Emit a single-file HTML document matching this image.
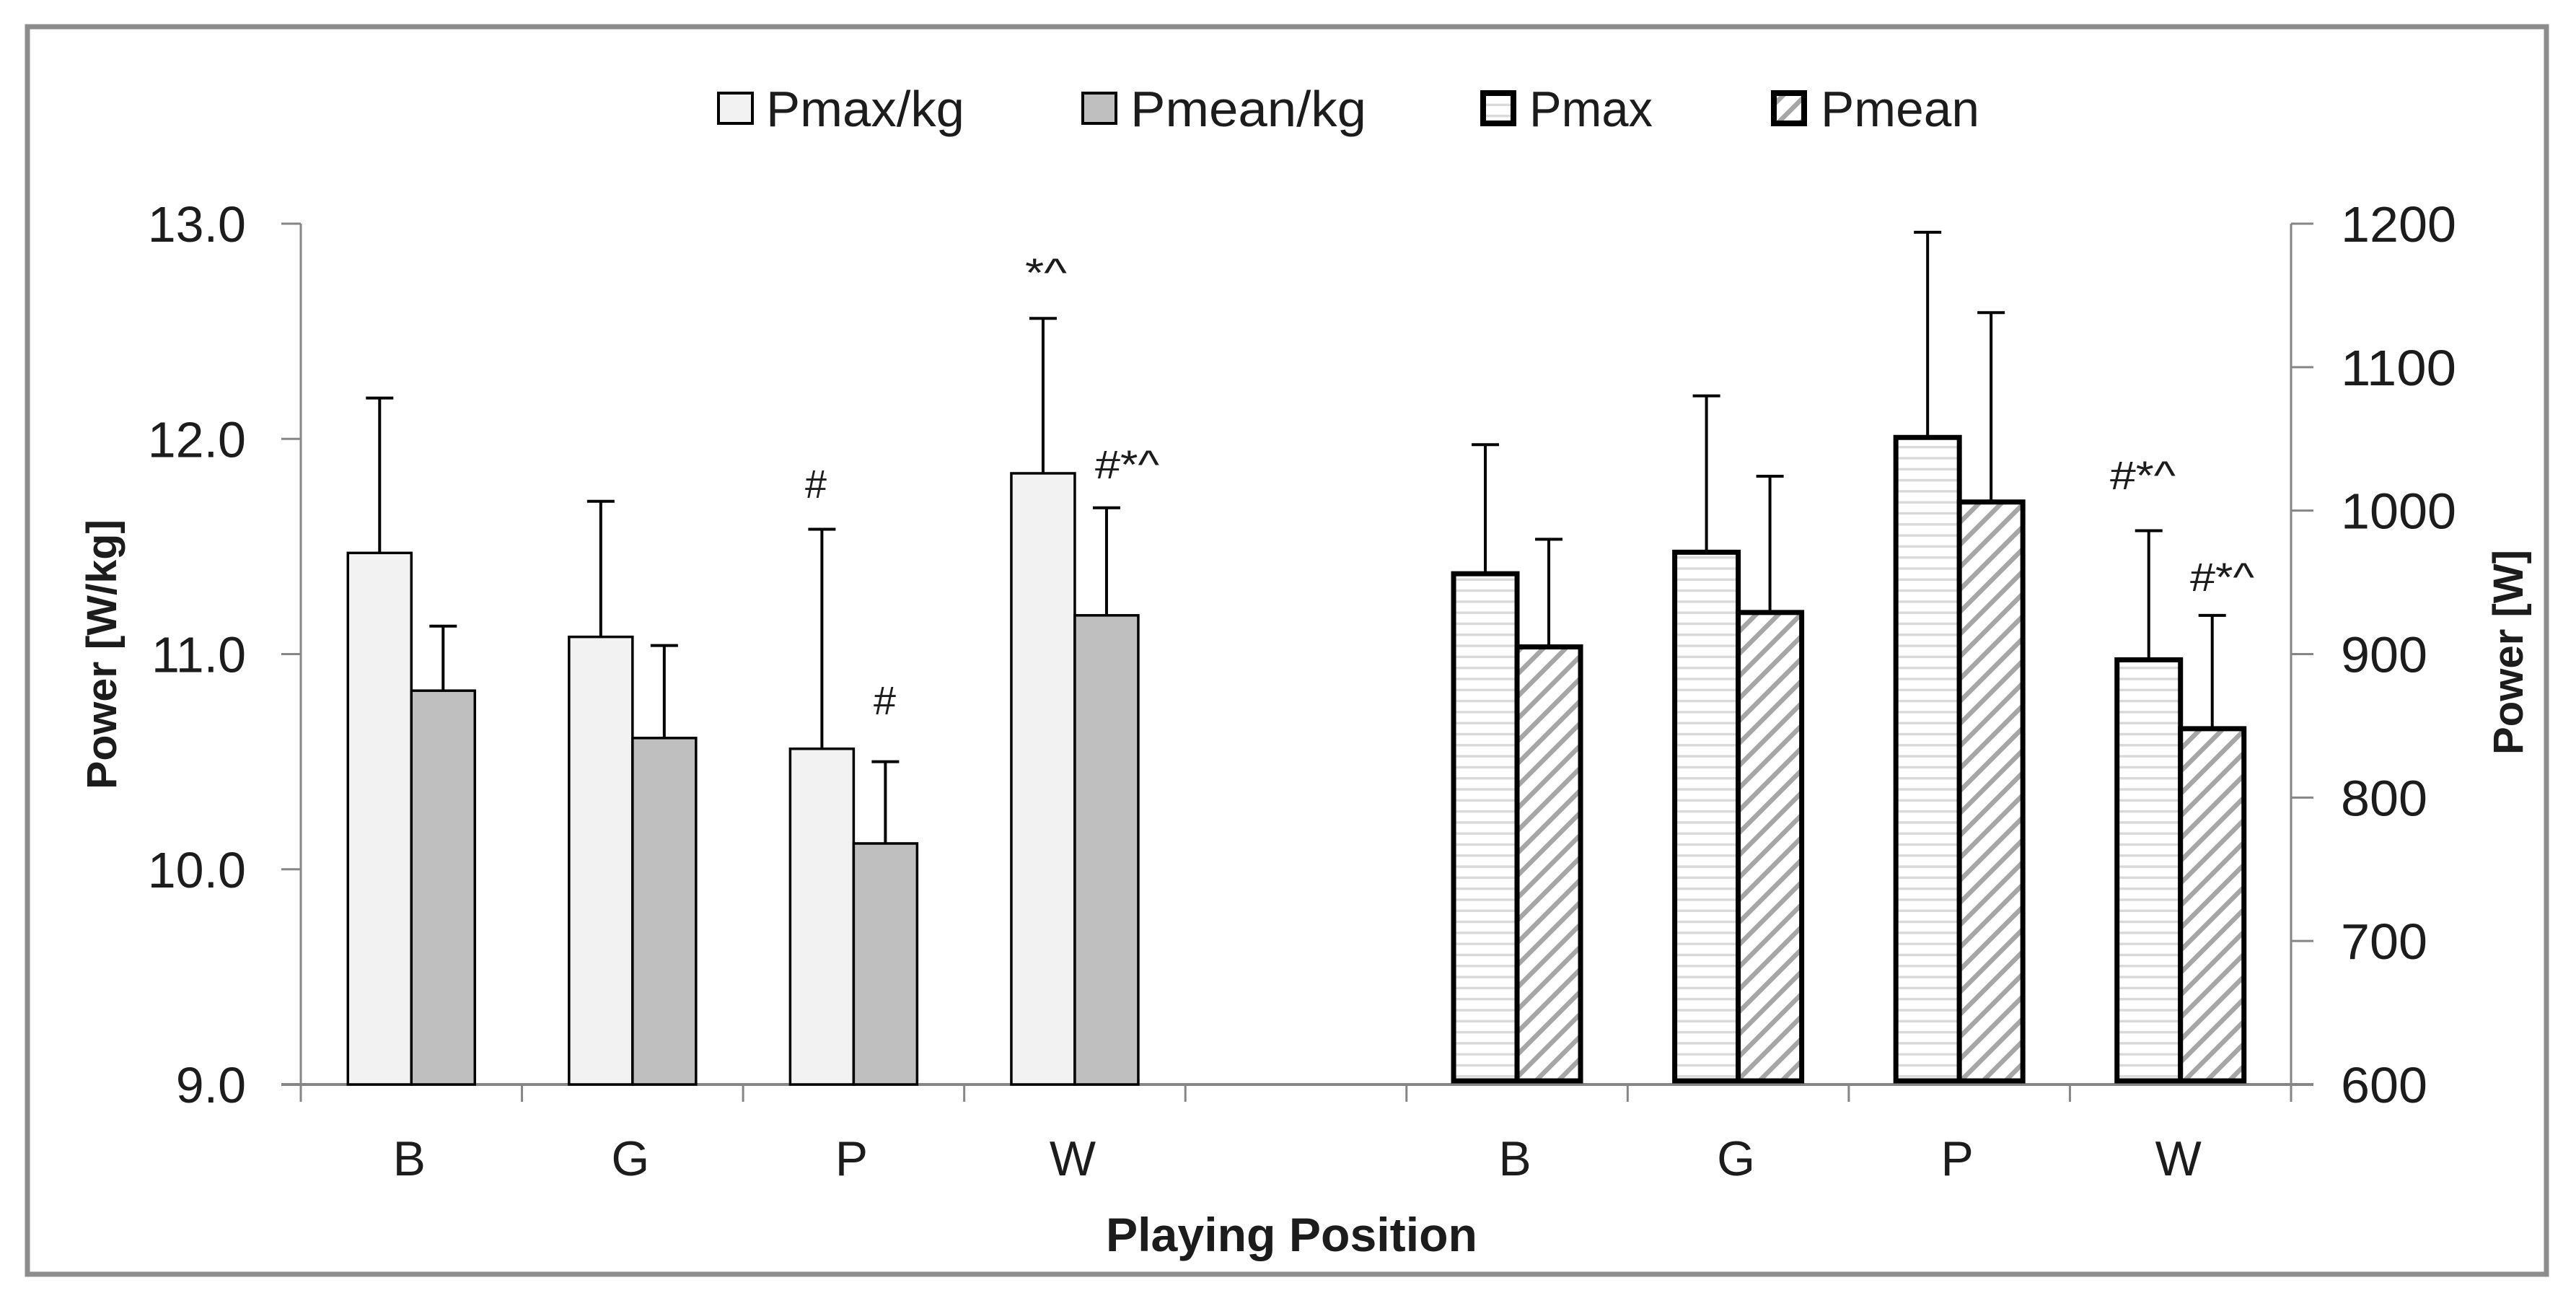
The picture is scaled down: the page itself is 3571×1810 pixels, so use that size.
<!DOCTYPE html>
<html lang="en">
<head>
<meta charset="utf-8">
<title>Power by Playing Position</title>
<style>
html,body{margin:0;padding:0;background:#fff;}
svg{display:block;}
text{font-family:"Liberation Sans",sans-serif;fill:#1c1c1c;}
</style>
</head>
<body>
<svg id="chart" xmlns="http://www.w3.org/2000/svg" width="3571" height="1810" viewBox="0 0 3571 1810">
  <defs>
    <pattern id="hatch-h" patternUnits="userSpaceOnUse" width="20" height="15.3">
      <rect width="20" height="15.3" fill="#fff"></rect>
      <rect y="6" width="20" height="3.4" fill="#d9d9d9"></rect>
    </pattern>
    <pattern id="hatch-d" patternUnits="userSpaceOnUse" width="31" height="31">
      <rect width="31" height="31" fill="#fff"></rect>
      <path d="M-8,39 L39,-8 M-8,8 L8,-8 M23,39 L39,23" stroke="#a6a6a6" stroke-width="6.5" fill="none"></path>
    </pattern>
  </defs>
  <rect x="38" y="37" width="3492" height="1729" fill="#fff" stroke="#8c8c8c" stroke-width="7"></rect>
  <g id="axes"></g>
  <g id="bars"></g>
  <g id="errors"></g>
  <g id="notes"></g>
  <g id="legend"></g>
  <text x="1533" y="1734" font-size="66" font-weight="700" textLength="515" lengthAdjust="spacingAndGlyphs">Playing Position</text>
  <text transform="translate(161,1094) rotate(-90)" font-size="58" font-weight="700" textLength="374" lengthAdjust="spacingAndGlyphs">Power [W/kg]</text>
  <text transform="translate(3497,1046) rotate(-90)" font-size="58" font-weight="700" textLength="284" lengthAdjust="spacingAndGlyphs">Power [W]</text>
</svg>
<script>
// Chart data
var categories = ['B', 'G', 'P', 'W', '', 'B', 'G', 'P', 'W'];
var leftTicks = ['13.0', '12.0', '11.0', '10.0', '9.0'];
var rightTicks = ['1200', '1100', '1000', '900', '800', '700', '600'];
var pmaxKgValues = [11.47, 11.08, 10.56, 11.84, null, null, null, null, null];
var pmaxKgErrors = [0.72, 0.63, 1.02, 0.72, null, null, null, null, null];
var pmeanKgValues = [10.83, 10.61, 10.12, 11.18, null, null, null, null, null];
var pmeanKgErrors = [0.30, 0.43, 0.38, 0.50, null, null, null, null, null];
var pmaxValues = [null, null, null, null, null, 956, 971, 1051, 896];
var pmaxErrors = [null, null, null, null, null, 90, 109, 143, 90];
var pmeanValues = [null, null, null, null, null, 905, 929, 1006, 848];
var pmeanErrors = [null, null, null, null, null, 75, 95, 132, 79];
var legendLabels = ['Pmax/kg', 'Pmean/kg', 'Pmax', 'Pmean'];

var NS = 'http://www.w3.org/2000/svg';
var plotLeft = 417, plotRight = 3176, plotTop = 310, plotBottom = 1503;
var leftMin = 9, leftMax = 13, rightMin = 600, rightMax = 1200;
var barWidth = 88;

function yLeft(v) { return plotBottom - (v - leftMin) / (leftMax - leftMin) * (plotBottom - plotTop); }
function yRight(v) { return plotBottom - (v - rightMin) / (rightMax - rightMin) * (plotBottom - plotTop); }
function catEdge(i) { return plotLeft + i * (plotRight - plotLeft) / categories.length; }
function catCenter(i) { return catEdge(i + 0.5); }

function make(tag, parent, props) {
  var el = document.createElementNS(NS, tag);
  for (var k in props) { el.setAttribute(k, props[k]); }
  parent.appendChild(el);
  return el;
}

var axes = document.getElementById('axes');
var bars = document.getElementById('bars');
var errors = document.getElementById('errors');
var notes = document.getElementById('notes');
var legend = document.getElementById('legend');
var axisColor = '#868686';

var leftLine = make('line', axes, {x1: plotLeft, x2: plotLeft, y1: plotTop, y2: plotBottom, stroke: axisColor, 'stroke-width': 3});


var rightLine = make('line', axes, {x1: plotRight, x2: plotRight, y1: plotTop, y2: plotBottom, stroke: axisColor, 'stroke-width': 3});


var xLine = make('line', axes, {x1: 390, x2: 3207, y1: plotBottom, y2: plotBottom, stroke: axisColor, 'stroke-width': 4});



leftTicks.forEach(function (label) {
  var y = yLeft(parseFloat(label));
  var tick = make('line', axes, {x1: 390, x2: plotLeft, y1: y, y2: y, stroke: axisColor, 'stroke-width': 3});
  
  
  var t = make('text', axes, {x: 341, y: y + 25, 'font-size': 70, 'text-anchor': 'end'});
  t.textContent = label;
  
  
});

rightTicks.forEach(function (label) {
  var y = yRight(parseFloat(label));
  var tick = make('line', axes, {x1: plotRight, x2: 3207, y1: y, y2: y, stroke: axisColor, 'stroke-width': 3});
  
  
  var t = make('text', axes, {x: 3245, y: y + 25, 'font-size': 70, textLength: label.length * 40, lengthAdjust: 'spacingAndGlyphs'});
  t.textContent = label;
  
  
});

for (var c = 0; c <= categories.length; c++) {
  var xt = catEdge(c);
  var xTick = make('line', axes, {x1: xt, x2: xt, y1: plotBottom, y2: 1527, stroke: axisColor, 'stroke-width': 3});
  
  
}

categories.forEach(function (label, i) {
  if (!label) { return; }
  var t = make('text', axes, {x: catCenter(i) - 3, y: 1629, 'font-size': 68, 'text-anchor': 'middle'});
  t.textContent = label;
  
  
});

function drawSeries(values, errs, scale, offset, fill, strokeWidth, baseInset, name) {
  values.forEach(function (v, i) {
    if (v === null) { return; }
    var x = catCenter(i) + offset;
    var top = scale(v);
    var errTop = scale(v + errs[i]);
    var rect = make('rect', bars, {x: x, y: top, width: barWidth, height: plotBottom - baseInset - top, fill: fill, stroke: '#000', 'stroke-width': strokeWidth});
    
    
    var stem = make('line', errors, {x1: x + barWidth / 2, x2: x + barWidth / 2, y1: top, y2: errTop, stroke: '#000', 'stroke-width': 4});
    
    
    var cap = make('line', errors, {x1: x + barWidth / 2 - 19, x2: x + barWidth / 2 + 19, y1: errTop, y2: errTop, stroke: '#000', 'stroke-width': 4});
    
    
  });
}
drawSeries(pmaxKgValues, pmaxKgErrors, yLeft, -barWidth, '#f2f2f2', 3.5, 0, 'pmax-kg');
drawSeries(pmeanKgValues, pmeanKgErrors, yLeft, 0, '#bfbfbf', 3.5, 0, 'pmean-kg');
drawSeries(pmaxValues, pmaxErrors, yRight, -barWidth, 'url(#hatch-h)', 7, 5, 'pmax');
drawSeries(pmeanValues, pmeanErrors, yRight, 0, 'url(#hatch-d)', 7, 5, 'pmean');

var noteTexts = ['*^', '#*^', '#', '#', '#*^', '#*^'];
var noteLayout = [
  {x: 1421, y: 397, w: 58},
  {x: 1518, y: 663, w: 89},
  {x: 1116, y: 690, w: 30},
  {x: 1211, y: 990, w: 31},
  {x: 2925, y: 678, w: 91},
  {x: 3036, y: 819, w: 89}
];
noteTexts.forEach(function (label, i) {
  var t = make('text', notes, {x: noteLayout[i].x, y: noteLayout[i].y, 'font-size': 56, textLength: noteLayout[i].w, lengthAdjust: 'spacingAndGlyphs'});
  t.textContent = label;
  
  
});

var legendSwatches = [
  {x: 996, w: 47, fill: '#f2f2f2', sw: 4, tx: 1062, tw: 275},
  {x: 1501, w: 46, fill: '#bfbfbf', sw: 4, tx: 1567, tw: 327},
  {x: 2056, w: 42, fill: 'url(#hatch-h)', sw: 8, tx: 2120, tw: 171},
  {x: 2459, w: 42, fill: 'url(#hatch-d)', sw: 8, tx: 2524, tw: 220}
];
legendLabels.forEach(function (label, i) {
  var s = legendSwatches[i];
  var box = make('rect', legend, {x: s.x, y: 129, width: s.w, height: 42, fill: s.fill, stroke: '#000', 'stroke-width': s.sw});
  
  
  var t = make('text', legend, {x: s.tx, y: 175, 'font-size': 70, textLength: s.tw, lengthAdjust: 'spacingAndGlyphs'});
  t.textContent = label;
  
  
});
</script>
</body>
</html>
